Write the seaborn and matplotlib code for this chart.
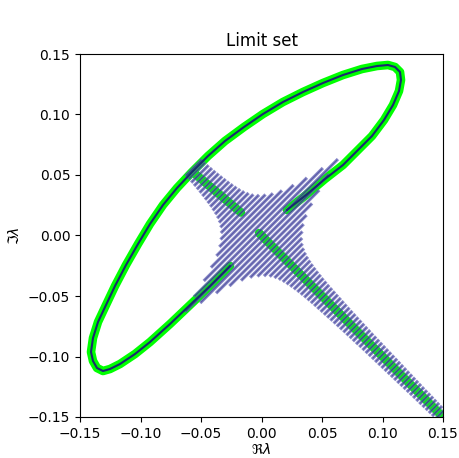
import numpy as np
import pandas as pd
import matplotlib
matplotlib.use("Agg")
import matplotlib.pyplot as plt
import seaborn as sns

# ---- limit set arcs (data coords) ----
# long arc: lower-left arm -> bottom-left turn -> upper edge -> top-right turn -> upper-right arm
loop_px = [(230, 266), (210, 286), (190, 305), (170, 324), (150, 342), (135, 354), (120, 364),
           (110, 369), (103, 371), (97, 368), (93, 361), (91, 352), (93, 338), (98, 322),
           (106, 305), (115, 286), (126, 265), (138, 244), (150, 224), (163, 205), (177, 188),
           (192, 172), (208, 156), (225, 141), (244, 127), (263, 114), (283, 102), (303, 92),
           (323, 83), (343, 75), (362, 69), (377, 66), (388, 65), (395, 67), (400, 72),
           (401, 80), (399, 91), (393, 105), (384, 120), (372, 136), (358, 150), (343, 165),
           (325, 179), (306, 195), (287, 210)]
loop_x = [(p[0] - 261.5) / 1210 for p in loop_px]
loop_y = [(235.5 - p[1]) / 1210 for p in loop_px]

# straight pieces of the limit set on the cross
arm_ul_x = [-0.055, -0.017]
arm_ul_y = [0.051, 0.019]
arm_lr_x = [-0.002, 0.16]
arm_lr_y = [0.002, -0.16]

# ---- eigenvalue stripes: position along the -45 deg arm (u) and half length (h) ----
stripe_u = [0.0000, 0.0036, 0.0072, 0.0108, 0.0144, 0.0180, 0.0216, 0.0252, 0.0288, 0.0324,
            0.0360, 0.0396, 0.0432, 0.0468, 0.0504, 0.0540, 0.0576, 0.0612, 0.0648, 0.0684,
            0.0720, 0.0756, 0.0792, 0.0828, 0.0864, 0.0900, 0.0936, 0.0972, 0.1008, 0.1044,
            0.1080, 0.1116, 0.1152, 0.1188, 0.1224, 0.1260, 0.1296, 0.1332, 0.1368, 0.1404,
            0.1440, 0.1476, 0.1512, 0.1548, 0.1584, 0.1620, 0.1656, 0.1692, 0.1728, 0.1764,
            0.1800, 0.1836, 0.1872, 0.1908, 0.1944, 0.1980, 0.2016, 0.2052, 0.2088, 0.2124,
            0.2160,
            -0.0036, -0.0072, -0.0108, -0.0144, -0.0180, -0.0216, -0.0252, -0.0288, -0.0324,
            -0.0360, -0.0396, -0.0432, -0.0468, -0.0504, -0.0540, -0.0576, -0.0612, -0.0648,
            -0.0684, -0.0720, -0.0756, -0.0792]
stripe_h = [0.088, 0.074, 0.059, 0.047, 0.037, 0.030, 0.025, 0.021, 0.0180, 0.0160,
            0.0145, 0.0134, 0.0126, 0.0119, 0.0113, 0.0108, 0.0104, 0.0100, 0.0097, 0.0094,
            0.0092, 0.0090, 0.0088, 0.0086, 0.0084, 0.0082, 0.0080, 0.0078, 0.0077, 0.0075,
            0.0074, 0.0072, 0.0071, 0.0070, 0.0068, 0.0067, 0.0066, 0.0065, 0.0064, 0.0063,
            0.0062, 0.0061, 0.0060, 0.0059, 0.0058, 0.0057, 0.0056, 0.0055, 0.0054, 0.0053,
            0.0052, 0.0051, 0.0050, 0.0050, 0.0049, 0.0048, 0.0047, 0.0046, 0.0046, 0.0045,
            0.0044,
            0.074, 0.059, 0.047, 0.037, 0.030, 0.025, 0.021, 0.0180, 0.0160,
            0.0145, 0.0134, 0.0126, 0.0119, 0.0113, 0.0108, 0.0103, 0.0099, 0.0095,
            0.0092, 0.0089, 0.0087, 0.0085]

rows = []
s2 = np.sqrt(2)
for k, (u, h) in enumerate(zip(stripe_u, stripe_h)):
    for v in (-h, h):
        rows.append({"stripe": k, "x": (u + v) / s2, "y": (v - u) / s2})
stripes = pd.DataFrame(rows)

fig = plt.figure(figsize=(4.59, 4.58), dpi=100)
ax = fig.add_axes([80 / 459, 1 - 417 / 458, 363 / 459, 363 / 458])

green = "#00ff00"
navy = "#1a2870"
for xs, ys in [(loop_x, loop_y), (arm_ul_x, arm_ul_y), (arm_lr_x, arm_lr_y)]:
    sns.lineplot(x=xs, y=ys, sort=False, estimator=None, color=green, lw=6.2, ax=ax,
                 zorder=1, solid_capstyle="round")

sns.lineplot(data=stripes, x="x", y="y", units="stripe", estimator=None, sort=False,
             color="#5858b0", alpha=0.72, lw=2.3, ax=ax, zorder=2)
sns.lineplot(data=stripes, x="x", y="y", units="stripe", estimator=None, sort=False,
             color="#10106e", alpha=0.4, lw=0.7, ax=ax, zorder=3)

sns.lineplot(x=loop_x, y=loop_y, sort=False, estimator=None, color=navy, lw=1.5, ax=ax,
             zorder=4)

ax.set_xlim(-0.15, 0.15)
ax.set_ylim(-0.15, 0.15)
ticks = [-0.15, -0.10, -0.05, 0.00, 0.05, 0.10, 0.15]
ax.set_xticks(ticks)
ax.set_yticks(ticks)
ax.set_xlabel(r"$\Re\lambda$", labelpad=1)
ax.set_ylabel(r"$\Im\lambda$")
ax.set_title("Limit set")

fig.savefig("out.png", dpi=100)
